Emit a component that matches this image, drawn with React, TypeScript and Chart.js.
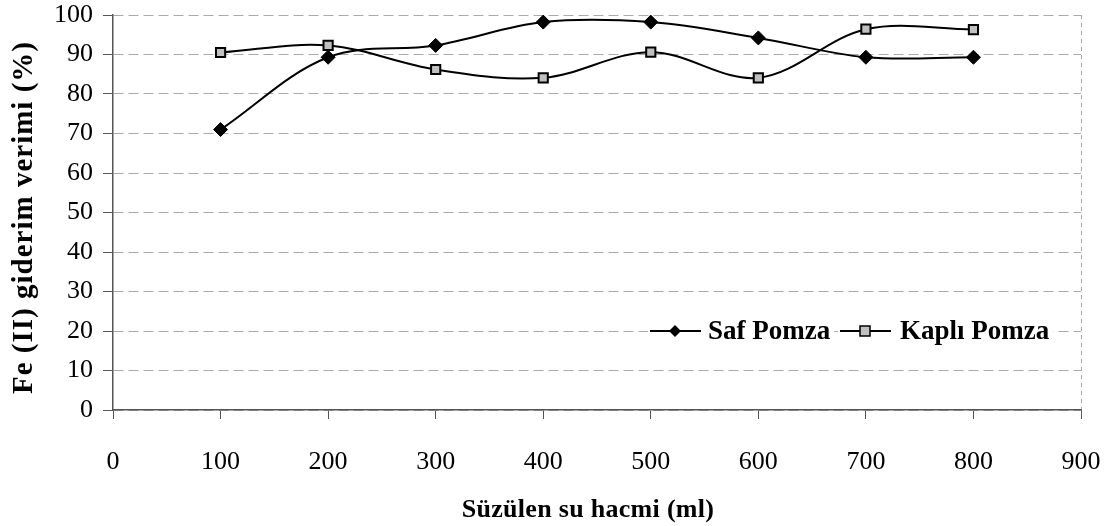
import React, { useEffect, useRef } from "react";
import { Chart, registerables } from "chart.js";

Chart.register(...registerables);

const volumes = [100, 200, 300, 400, 500, 600, 700, 800];
const safPomza = [71, 89.3, 92.3, 98.2, 98.2, 94.2, 89.3, 89.3];
const kapliPomza = [90.5, 92.3, 86.2, 84.1, 90.6, 84.1, 96.4, 96.3];
const seriesNames = ["Saf Pomza", "Kaplı Pomza"];
const xTitle = "Süzülen su hacmi (ml)";
const yTitle = "Fe (II) giderim verimi (%)";

const FONT = "'Liberation Serif', 'Times New Roman', serif";

const overlayPlugin = {
  id: "overlay",
  afterDatasetsDraw(chart: any) {
    const ctx = chart.ctx;
    const area = chart.chartArea;
    const y = chart.scales.y.getPixelForValue(20);
    ctx.save();
    // legend
    ctx.font = `bold 27px ${FONT}`;
    ctx.textBaseline = "middle";
    ctx.textAlign = "left";
    const items = [
      { x: 650, textX: 708, label: seriesNames[0], kind: "diamond" },
      { x: 840, textX: 900, label: seriesNames[1], kind: "square" },
    ];
    items.forEach((it) => {
      const w = ctx.measureText(it.label).width;
      ctx.fillStyle = "#fff";
      ctx.fillRect(it.x - 2, y - 14, it.textX - it.x + w + 6, 28);
      ctx.strokeStyle = "#000";
      ctx.lineWidth = 2;
      ctx.beginPath();
      ctx.moveTo(it.x, y);
      ctx.lineTo(it.x + 51, y);
      ctx.stroke();
      const cx = it.x + 25;
      if (it.kind === "diamond") {
        ctx.fillStyle = "#000";
        ctx.beginPath();
        ctx.moveTo(cx, y - 6);
        ctx.lineTo(cx + 6, y);
        ctx.lineTo(cx, y + 6);
        ctx.lineTo(cx - 6, y);
        ctx.closePath();
        ctx.fill();
      } else {
        ctx.fillStyle = "#c0c0c0";
        ctx.fillRect(cx - 5, y - 5, 10, 10);
        ctx.lineWidth = 1.5;
        ctx.strokeRect(cx - 5, y - 5, 10, 10);
      }
      ctx.fillStyle = "#000";
      ctx.fillText(it.label, it.textX, y + 1);
    });
    ctx.restore();

    // y axis title
    ctx.save();
    ctx.font = `bold 29px ${FONT}`;
    (ctx as any).letterSpacing = "1px";
    ctx.fillStyle = "#000";
    ctx.textAlign = "center";
    ctx.textBaseline = "middle";
    ctx.translate(25, (area.top + area.bottom) / 2 + 5);
    ctx.rotate(-Math.PI / 2);
    ctx.fillText(yTitle, 0, 0);
    ctx.restore();

    // x axis title
    ctx.save();
    ctx.font = `bold 26px ${FONT}`;
    (ctx as any).letterSpacing = "0.3px";
    ctx.fillStyle = "#000";
    ctx.textAlign = "center";
    ctx.textBaseline = "middle";
    ctx.fillText(xTitle, (area.left + area.right) / 2 - 9, 510);
    ctx.restore();
  },
};

export default function App() {
  const ref = useRef<HTMLCanvasElement | null>(null);
  useEffect(() => {
    if (!ref.current) return;
    const chart = new Chart(ref.current, {
      type: "line",
      data: {
        datasets: [
          {
            label: seriesNames[0],
            data: volumes.map((v, i) => ({ x: v, y: safPomza[i] })),
            borderColor: "#000",
            borderWidth: 2,
            pointStyle: "rectRot",
            pointRadius: 7,
            pointBackgroundColor: "#000",
            pointBorderColor: "#000",
            pointBorderWidth: 1,
            tension: 0.35,
          },
          {
            label: seriesNames[1],
            data: volumes.map((v, i) => ({ x: v, y: kapliPomza[i] })),
            borderColor: "#000",
            borderWidth: 2,
            pointStyle: "rect",
            pointRadius: 6.5,
            pointBackgroundColor: "#c0c0c0",
            pointBorderColor: "#000",
            pointBorderWidth: 2,
            tension: 0.35,
          },
        ],
      },
      options: {
        animation: false,
        responsive: false,
        layout: { padding: { top: 15, right: 26, left: 0, bottom: 0 } },
        plugins: {
          legend: { display: false },
          tooltip: { enabled: false },
        },
        scales: {
          x: {
            type: "linear",
            min: 0,
            max: 900,
            afterFit: (s: any) => {
              s.height = 116;
              s.paddingLeft = 0;
              s.paddingRight = 0;
            },
            ticks: {
              stepSize: 100,
              color: "#000",
              font: { family: FONT, size: 26 },
              padding: 28,
              maxRotation: 0,
            },
            grid: {
              color: (c: any) => (c.index === 9 ? "#aaa" : "rgba(0,0,0,0)"),
              tickColor: "#555",
              tickLength: 9,
              tickBorderDash: [],
              lineWidth: 1,
            },
            border: { color: "#555", width: 1.5, dash: [4, 4] },
            title: { display: false },
          },
          y: {
            min: 0,
            max: 100,
            afterFit: (s: any) => {
              s.width = 113;
              s.paddingTop = 0;
              s.paddingBottom = 0;
            },
            ticks: {
              stepSize: 10,
              color: "#000",
              font: { family: FONT, size: 26 },
              padding: 10,
            },
            grid: {
              color: "#aaa",
              tickColor: "#555",
              tickLength: 10,
              tickBorderDash: [],
              lineWidth: 1,
            },
            border: { color: "#555", width: 1.5, dash: [10, 5] },
            title: { display: false },
          },
        },
      },
      plugins: [overlayPlugin],
    } as any);
    return () => chart.destroy();
  }, []);
  return (
    <div style={{ position: "fixed", left: 0, top: 0, width: 1107, height: 526, background: "#fff" }}>
      <canvas ref={ref} width={1107} height={526} style={{ width: 1107, height: 526 }} />
    </div>
  );
}
